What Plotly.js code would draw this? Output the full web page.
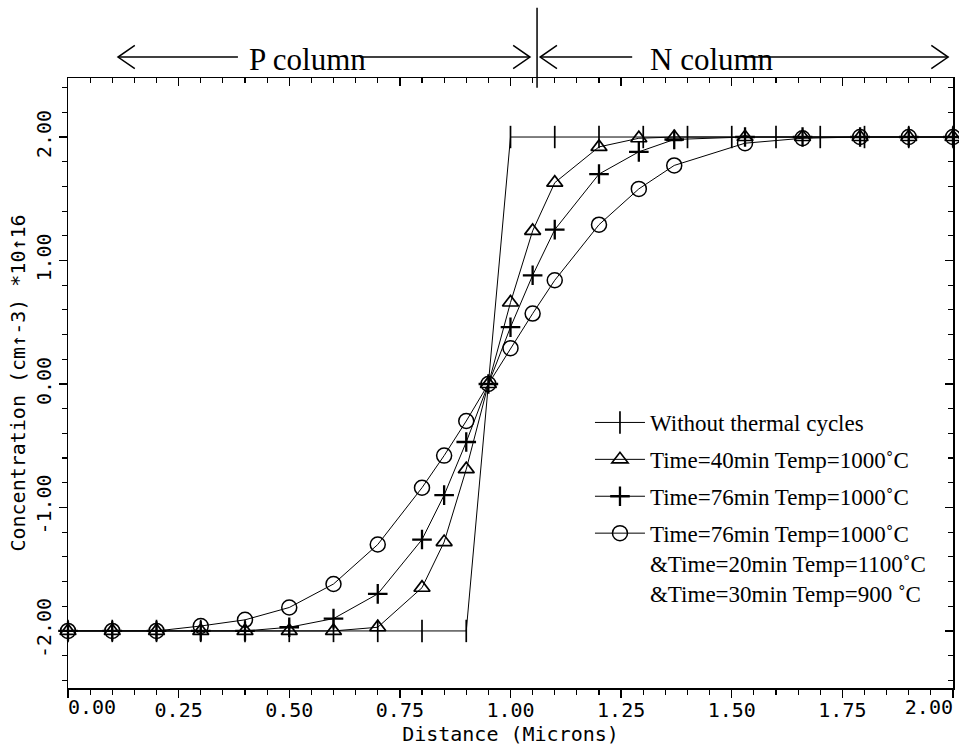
<!DOCTYPE html>
<html>
<head>
<meta charset="utf-8">
<script src="https://cdn.plot.ly/plotly-3.0.1.min.js"></script>
<style>html,body{margin:0;padding:0;background:#fff;}#chart{width:959px;height:746px;}</style>
</head>
<body>
<div id="chart"></div>
<script>
// ---- data ----
const seriesNames = [
  "Without thermal cycles",
  "Time=40min Temp=1000˚C",
  "Time=76min Temp=1000˚C",
  "Time=76min Temp=1000˚C<br>&Time=20min Temp=1100˚C<br>&Time=30min Temp=900 ˚C"
];
const xStep = [0.0,0.1,0.2,0.3,0.4,0.5,0.6,0.7,0.8,0.9,1.0,1.1,1.2,1.3,1.4,1.5,1.6,1.7,1.8,1.9,2.0];
const yStep = [-2,-2,-2,-2,-2,-2,-2,-2,-2,-2,2,2,2,2,2,2,2,2,2,2,2];
const xGrid = [0.0,0.1,0.2,0.3,0.4,0.5,0.6,0.7,0.8,0.85,0.9,0.95,1.0,1.05,1.1,1.2,1.29,1.37,1.53,1.66,1.79,1.90,2.0];
const y40 = [-2,-2,-2,-2,-2,-2,-2,-1.97,-1.65,-1.28,-0.69,0,0.66,1.24,1.63,1.92,1.99,2,2,2,2,2,2];
const y76 = [-2,-2,-2,-2,-2,-1.97,-1.90,-1.70,-1.26,-0.90,-0.47,0,0.46,0.88,1.25,1.70,1.88,1.98,2,2,2,2,2];
const yCycle = [-2,-2,-2,-1.96,-1.91,-1.81,-1.62,-1.30,-0.84,-0.58,-0.30,0,0.29,0.57,0.84,1.29,1.58,1.77,1.95,1.99,2,2,2];
const xTickVals = [0,0.25,0.5,0.75,1.0,1.25,1.5,1.75,2.0];
const xTickText = ["0.00","0.25","0.50","0.75","1.00","1.25","1.50","1.75","2.00"];
const yTickVals = [-2,-1,0,1,2];
const yTickText = ["-2.00","-1.00","0.00","1.00","2.00"];
const regionLabels = ["P column","N column"];
const xTitle = "Distance (Microns)";
const yTitle = "Concentration (cm↑-3) *10↑16";

// ---- styles ----
const nX = xTickVals.length;
// interior labels centred on their ticks; the two end labels are aligned inward (as in the original)
const xInnerText = xTickText.map((t, i) => (i === 0 || i === nX - 1) ? "" : t);
const monoFont = {family: "DejaVu Sans Mono", size: 20, color: "#000"};
const serif = "Liberation Serif, Times New Roman, serif";
const xRange = [0, 2.0];
const yRange = [-2.462, 2.478];

function mk(x, y, name, symbol, size, lw, grp) {
  return {
    x: x, y: y, name: name, type: "scatter", mode: "lines+markers",
    cliponaxis: false, legendgroup: grp,
    line: {color: "#000", width: 1},
    marker: {symbol: symbol, size: size, color: "#000", line: {color: "#000", width: lw}}
  };
}
function helper(xa, ya) {
  return {x: [], y: [], xaxis: xa, yaxis: ya, type: "scatter", mode: "markers", showlegend: false, hoverinfo: "skip"};
}
const traces = [
  mk(xStep, yStep, seriesNames[0], "line-ns-open", 16, 1.7, "a"),
  mk(xGrid, y40, seriesNames[1], "triangle-up-open", 14, 1.7, "b"),
  mk(xGrid, y76, seriesNames[2], "cross-thin-open", 14, 2.3, "c"),
  mk(xGrid, yCycle, seriesNames[3], "circle-open", 15, 1.5, "d"),
  // empty helpers so the extra (tick / label) axes get drawn
  helper("x2", "y"), helper("x", "y2"), helper("x3", "y"), helper("x4", "y")
];

// top annotation geometry (x in data units, y in paper units)
const arrowY = 1.0344, headDx = 0.038, headDy = 0.019;
function head(tip, dir) {
  const bx = tip - dir * headDx;
  return {type: "path", xref: "x", yref: "paper",
    path: `M${bx},${arrowY + headDy} L${tip},${arrowY} L${bx},${arrowY - headDy}`,
    line: {color: "#000", width: 1.5}};
}
function hline(a, b) {
  return {type: "line", xref: "x", yref: "paper", x0: a, x1: b, y0: arrowY, y1: arrowY,
    line: {color: "#000", width: 1.5}};
}
const shapes = [
  hline(0.113, 0.384), head(0.113, -1),
  hline(0.66, 1.044), head(1.044, 1),
  hline(1.067, 1.275), head(1.067, -1),
  hline(1.53, 1.989), head(1.989, 1),
  {type: "line", xref: "x", yref: "paper", x0: 1.06, x1: 1.06, y0: 0.984, y1: 1.115,
   line: {color: "#000", width: 1.5}}
];
const annotations = [
  {text: regionLabels[0], x: 0.542, y: 1.03, xref: "x", yref: "paper", showarrow: false,
   xanchor: "center", yanchor: "middle", font: {family: serif, size: 31, color: "#000"}},
  {text: regionLabels[1], x: 1.455, y: 1.03, xref: "x", yref: "paper", showarrow: false,
   xanchor: "center", yanchor: "middle", font: {family: serif, size: 31, color: "#000"}}
];

const labelAxis = (val, txt, pos) => ({
  overlaying: "x", side: "bottom", anchor: "y", range: xRange,
  tickmode: "array", tickvals: [val], ticktext: [txt], ticks: "", ticklabelposition: pos,
  ticklabelstandoff: 5, tickfont: monoFont,
  showline: false, showgrid: false, zeroline: false
});

const layout = {
  width: 959, height: 746,
  margin: {l: 68, r: 6, t: 78, b: 58},
  paper_bgcolor: "#fff", plot_bgcolor: "#fff",
  showlegend: true,
  legend: {x: 0.5898, y: 0.4705, xanchor: "left", yanchor: "top",
    bgcolor: "rgba(0,0,0,0)", borderwidth: 0, itemwidth: 50,
    traceorder: "grouped", tracegroupgap: 4, valign: "top",
    font: {family: serif, size: 23, color: "#000"}},
  xaxis: {range: xRange, tickmode: "array", tickvals: xTickVals, ticktext: xInnerText,
    ticks: "outside", ticklen: 8, tickwidth: 1.3, tickcolor: "#000", ticklabelstandoff: -5,
    minor: {tickmode: "linear", tick0: 0, dtick: 0.05, ticks: "outside", ticklen: 5, tickwidth: 1.2, tickcolor: "#000"},
    showline: true, mirror: true, linecolor: "#000", linewidth: 1.5, showgrid: false, zeroline: false,
    tickfont: monoFont, title: {text: xTitle, font: monoFont, standoff: 7}},
  xaxis3: labelAxis(xTickVals[0], xTickText[0], "outside right"),
  xaxis4: labelAxis(xTickVals[nX - 1], xTickText[nX - 1], "outside left"),
  yaxis: {range: yRange, tickmode: "array", tickvals: yTickVals, ticktext: yTickText,
    ticks: "outside", ticklen: 8, tickwidth: 1.3, tickcolor: "#000", tickangle: -90,
    minor: {tickmode: "linear", tick0: 0, dtick: 0.2, ticks: "outside", ticklen: 5, tickwidth: 1.2, tickcolor: "#000"},
    showline: true, mirror: true, linecolor: "#000", linewidth: 1.5, showgrid: false, zeroline: false,
    tickfont: monoFont, title: {text: yTitle, font: monoFont, standoff: 0}},
  xaxis2: {overlaying: "x", side: "top", anchor: "y", range: xRange, tickmode: "linear", tick0: 0, dtick: 0.25,
    ticks: "inside", ticklen: 8, tickwidth: 1.3, tickcolor: "#000", showticklabels: false,
    minor: {tickmode: "linear", tick0: 0, dtick: 0.05, ticks: "inside", ticklen: 5, tickwidth: 1.2, tickcolor: "#000"},
    showline: true, linecolor: "#000", linewidth: 1.5, showgrid: false, zeroline: false},
  yaxis2: {overlaying: "y", side: "right", anchor: "x", range: yRange, tickmode: "linear", tick0: 0, dtick: 1,
    ticks: "inside", ticklen: 8, tickwidth: 1.3, tickcolor: "#000", showticklabels: false,
    minor: {tickmode: "linear", tick0: 0, dtick: 0.2, ticks: "inside", ticklen: 5, tickwidth: 1.2, tickcolor: "#000"},
    showline: true, linecolor: "#000", linewidth: 1.5, showgrid: false, zeroline: false},
  shapes: shapes,
  annotations: annotations
};

Plotly.newPlot("chart", traces, layout, {displayModeBar: false, staticPlot: true});
</script>
</body>
</html>
